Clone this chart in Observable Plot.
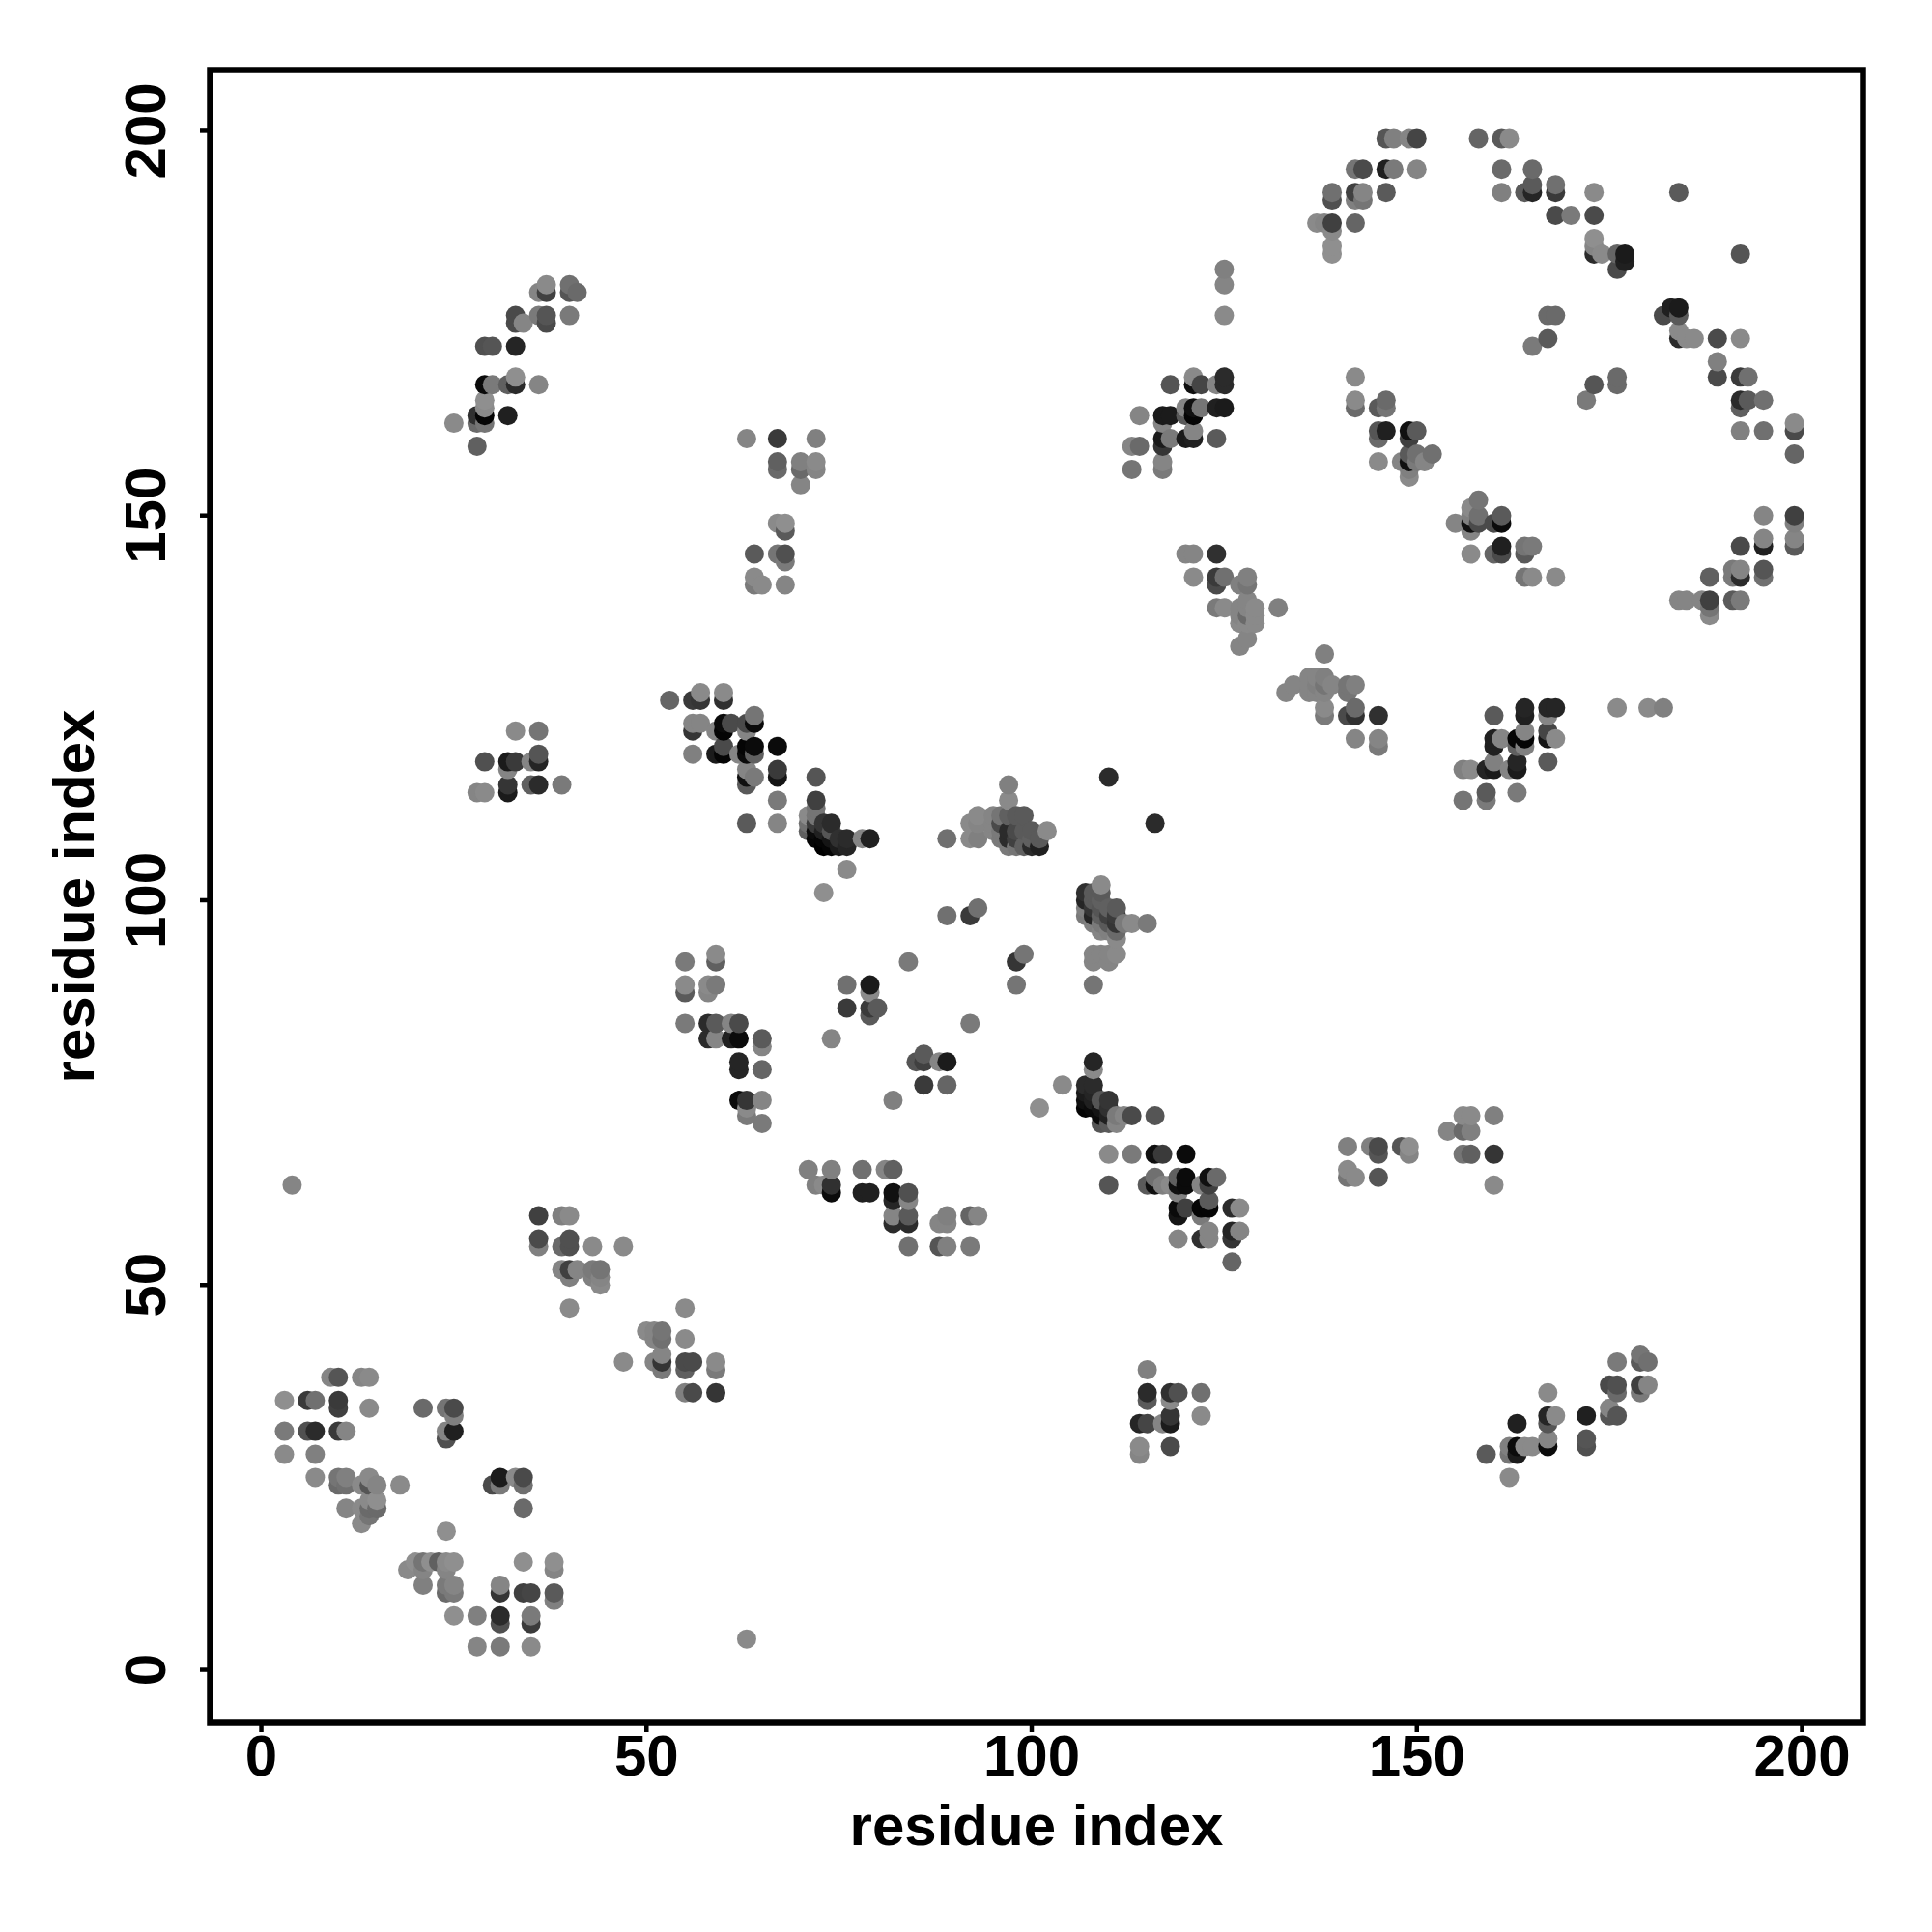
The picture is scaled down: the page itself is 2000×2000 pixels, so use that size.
<!DOCTYPE html>
<html>
<head>
<meta charset="utf-8">
<script src="https://cdn.jsdelivr.net/npm/d3@7"></script>
<script src="https://cdn.jsdelivr.net/npm/@observablehq/plot@0.6"></script>
<style>html,body{margin:0;padding:0;background:#fff}svg{display:block}</style>
</head>
<body>
<div id="chart"></div>
<script>
// each row: residue i, residue j, grey level of the contact
const lowLeft = [[3,35,135],[6,35,55],[7,35,105],[10,35,55],[10,34,60],[14,34,130],[3,31,115],[6,31,75],[7,31,40],[10,31,55],[11,31,125],[3,28,130],[7,28,120],[9,38,125],[10,38,80],[13,38,125],[14,38,130],
[7,25,130],[10,25,110],[10,24,100],[11,25,120],[11,24,105],[13,24,130],[14,24,80],[14,25,130],[15,24,125],[18,24,130],[11,21,125],[13,21,130],[14,21,100],[15,21,100],[14,22,130],[15,22,135],[14,20,110],[13,19,130],
[21,34,100],[24,34,110],[25,34,70],[25,33,120],[24,31,125],[25,31,30],[24,30,75],[31,25,25],[33,25,130],[34,25,70],[30,24,70],[31,24,115],[34,24,105],[34,21,100]];
const lowBase = [[28,3,125],[31,3,115],[35,3,130],[25,7,135],[28,7,120],[31,7,40],[31,6,75],[35,7,115],[35,6,55],[31,11,125],[31,10,50],[34,10,60],[35,10,65],[38,10,85],[38,9,120],[38,14,135],[38,13,125],[34,14,135],
[24,11,115],[25,11,125],[24,10,100],[25,10,115],[21,11,120],[19,13,130],[20,14,135],[21,14,110],[21,13,125],[22,14,135],[23,14,90],[24,14,130],[24,13,125],[25,14,135],[24,18,135],[63,4,130],[4,63,125]];
const lowMid = [[36,59,60],[39,59,120],[40,59,130],[36,56,70],[36,55,120],[39,55,100],[40,56,75],[40,55,75],[43,55,130],[47,55,130],[39,52,125],[40,52,60],[40,51,120],[41,52,125],[43,52,115],[44,52,110],[43,51,120],[44,51,125],[44,50,130],[40,47,130],
[50,44,130],[51,44,125],[52,44,110],[52,43,105],[51,43,125],[55,47,130],[55,43,130],[52,41,125],[47,40,130],[51,40,125],[52,40,50],[55,40,70],[56,40,70],[52,39,115],[55,39,90],[59,40,130],[59,39,115],[55,36,120],[56,36,70],[59,36,50]];
const midLeft = [[55,92,115],[59,93,130],[59,92,90],[55,89,130],[55,88,85],[58,89,130],[58,88,125],[59,89,115],[55,84,115],[58,84,40],[59,84,85],[61,84,125],[62,84,70],[58,82,40],[59,82,125],[61,82,30],[62,82,10],[65,82,85],[65,81,125],[62,79,35],[62,78,35],[65,78,95],[62,74,10],[63,74,50],[65,74,125],[63,73,130],[63,72,115],[65,71,115],
[76,89,105],[79,89,25],[79,88,130],[76,86,55],[79,86,55],[80,86,85],[79,85,85],[84,92,115],[74,82,125],[92,84,115],[85,79,80],[86,80,85],[86,79,60],[88,79,125],[89,79,25],[86,76,55],[89,76,95],[82,74,120],[104,76,130],[101,73,135],
[98,92,50],[99,93,110],[98,89,110],[89,98,105],[92,98,55],[93,99,105]];
const midLow = [[71,65,120],[74,65,120],[78,65,105],[81,65,125],[82,65,90],[72,63,120],[73,63,130],[74,63,45],[74,62,10],[78,62,30],[79,62,30],[82,62,15],[84,62,75],[82,61,35],[84,61,125],[82,59,125],[84,59,85],[89,59,120],[92,59,95],[93,59,125],[82,58,40],[84,58,40],[88,58,125],[89,58,125],[84,55,105],[88,55,80],[89,55,120],[92,55,115]];
const hub = [[108,79,35],[108,78,130],[107,76,40],[108,76,40],[107,75,25],[108,75,35],[107,74,15],[108,74,30],[107,73,5],[108,73,10],[109,74,80],[110,74,50],[109,73,20],[110,73,45],[109,72,10],[110,72,30],[111,72,115],[112,72,125],[113,72,70],[109,71,80],[110,71,85],[111,71,125],[116,72,80],
[110,67,130],[113,67,115],[116,67,15],[117,67,55],[120,67,10],[110,63,80],[115,63,85],[116,64,105],[116,63,15],[117,63,120],[118,63,130],[119,64,90],[120,64,10],[120,63,10],[119,63,15],[119,62,120],[122,63,125],[123,64,15],[124,64,100],[123,63,60],[123,61,85],
[119,60,10],[120,60,60],[122,60,5],[123,60,5],[119,59,20],[122,59,115],[126,60,40],[127,60,130],[123,57,125],[126,57,35],[127,57,125],[119,56,125],[122,56,45],[123,56,125],[126,56,50],[126,53,95]];
const hubRight = [[141,68,120],[144,68,120],[145,68,70],[145,67,80],[148,68,80],[149,68,135],[149,67,125],[141,65,130],[141,64,110],[142,64,130],[145,64,80],[156,72,130],[157,72,130],[160,72,120],[154,70,125],[156,70,100],[157,70,120],[156,67,110],[157,67,90],[160,67,50],[160,63,130]];
const lowRight = [[115,39,120],[115,36,40],[115,35,85],[118,36,45],[119,36,75],[118,35,130],[122,36,105],[122,33,130],[114,32,35],[115,32,65],[117,32,125],[118,33,50],[118,32,25],[114,29,130],[114,28,125],[118,29,70],
[159,28,85],[162,25,130],[163,32,30],[162,29,120],[162,28,110],[163,29,10],[163,28,25],[164,29,130],[165,29,130],[167,36,130],[167,33,35],[167,32,80],[168,33,130],[167,30,125],[167,29,10],[172,33,30],[172,30,80],[172,29,75],[175,37,70],[176,37,75],[176,36,100],[175,34,125],[175,33,80],[176,33,80],[176,40,115],[179,41,110],[179,40,85],[180,40,105],[179,37,60],[180,37,125],[179,36,115]];
const midTop = [[53,126,95],[56,126,55],[57,126,50],[57,127,130],[60,127,130],[60,126,45],[56,123,125],[57,123,125],[60,123,10],[61,123,70],[63,123,70],[64,123,10],[64,124,110],[56,122,50],[59,122,125],[60,122,5],[63,122,125],[56,119,120],[59,119,25],[60,119,5],[62,119,125],[63,119,10],[64,119,90],[60,120,70],[63,120,5],[64,120,10],[67,120,10],[67,117,55],[63,117,125],[63,116,15],[64,116,115],[67,116,20],[63,115,85],[67,113,115],[63,110,85],[67,110,125],
[72,116,80],[72,113,60],[72,112,110],[71,111,130],[71,110,105],[71,109,90],[72,111,110],[72,110,55],[72,109,10],[73,110,50],[74,110,40],[73,109,30],[74,109,80],[72,108,5],[73,108,5],[73,107,0],[74,108,20],[74,107,5],[75,108,45],[76,108,40],[75,107,25],[76,107,35],[78,108,125],[79,108,30],[76,104,130],[73,101,135]];
const center = [[89,108,105],[92,110,130],[92,108,130],[93,111,130],[93,110,125],[93,108,120],[97,115,120],[97,113,130],[95,111,125],[96,111,110],[96,110,70],[97,111,90],[98,111,85],[99,111,85],[96,109,115],[95,110,125],[95,109,125],[97,109,40],[97,108,40],[98,109,70],[98,108,60],[99,109,85],[100,109,85],[96,108,115],[97,107,115],[98,107,110],[99,107,90],[100,107,40],[101,107,30],[100,108,90],[101,108,85],[102,109,130],[110,116,40],[116,110,40],
[108,93,125],[108,92,125],[110,93,125],[110,92,125],[111,93,130],[109,93,125],[108,89,110],[109,102,130],[107,101,45],[108,101,85],[109,101,85],[107,100,35],[108,100,85],[109,100,90],[107,99,120],[108,99,50],[109,99,80],[110,99,90],[111,99,85],[107,98,115],[108,98,35],[109,98,90],[110,98,60],[111,98,55],[108,97,120],[109,97,115],[110,97,85],[111,97,50],[112,97,115],[113,97,130],[115,97,115],[109,96,125],[110,96,120],[111,96,100],[111,95,130]];
const upLeft = [[37,180,130],[36,179,125],[37,179,60],[40,180,105],[40,179,80],[41,179,100],[33,176,70],[33,175,70],[34,175,125],[36,176,115],[37,176,80],[37,175,70],[40,176,115],[29,172,75],[30,172,80],[33,172,35],[29,167,10],[30,167,115],[32,167,90],[33,167,40],[33,168,135],[36,167,125],[29,165,135],[29,164,130],[28,163,45],[29,163,5],[32,163,30],[28,162,100],[29,162,110],[25,162,130],[28,159,90],
[63,160,125],[67,160,55],[72,160,120],[67,157,90],[67,156,100],[70,157,120],[70,156,100],[72,157,130],[72,156,125],[70,154,125],[67,149,130],[68,149,135],[68,148,85],[64,145,85],[67,145,110],[68,145,75],[68,144,115],[64,142,130],[64,141,115],[65,141,130],[68,141,125],
[33,122,130],[36,122,110],[29,118,75],[32,118,25],[33,118,55],[35,118,125],[36,118,35],[36,119,80],[32,117,125],[35,115,90],[36,115,40],[39,115,115],[32,115,50],[32,114,25],[28,114,125],[29,114,130]];
const upMiddle = [[118,167,80],[121,168,130],[121,167,15],[122,167,65],[124,167,125],[125,168,40],[125,167,40],[114,163,125],[117,163,25],[118,163,25],[120,164,125],[121,164,15],[122,164,110],[124,164,30],[125,164,25],[120,163,85],[121,163,5],[117,162,125],[117,160,25],[118,160,115],[120,160,25],[121,160,30],[121,161,125],[124,160,85],[113,159,125],[114,159,100],[117,159,50],[113,156,110],[117,157,125],[117,156,115],[125,182,120],[125,180,125],[125,176,130],
[120,145,125],[121,145,125],[124,145,45],[121,142,130],[124,142,55],[125,142,105],[124,141,70],[127,141,120],[128,142,120],[128,141,110],[124,138,115],[125,138,130],[127,138,125],[128,139,125],[129,138,130],[128,138,125],[132,138,120],[127,137,125],[128,137,100],[129,137,130],[127,136,130],[128,136,130],[129,136,130],[128,134,125],[127,133,125]];
const upCentre = [[142,168,130],[142,165,130],[142,164,100],[145,164,85],[146,165,100],[146,164,110],[145,161,80],[146,161,30],[149,161,15],[150,161,85],[145,160,100],[149,160,60],[145,157,130],[148,157,125],[149,157,15],[149,158,85],[150,158,105],[150,157,115],[151,157,125],[152,158,105],[149,156,120],[149,155,130],
[158,152,110],[157,151,130],[158,150,105],[157,150,120],[155,149,125],[157,149,15],[158,149,70],[160,149,70],[161,150,85],[161,149,10],[157,148,125],[157,145,130],[160,145,95],[161,146,30],[161,145,70],[164,146,110],[165,146,115],[164,145,85],[164,142,110],[165,142,130],[168,142,130]];
const strand = [[138,132,120],[133,127,125],[134,128,125],[136,129,125],[137,129,125],[138,129,120],[136,128,125],[137,128,120],[138,128,110],[139,128,125],[136,127,125],[137,127,125],[138,127,125],[141,128,110],[142,128,120],[141,127,110],[138,125,130],[138,124,115],[141,124,70],[142,125,100],[142,124,45],[145,124,45],[142,121,125],[145,121,125],[145,120,115],
[176,125,130],[180,125,130],[182,125,120],[156,113,110],[159,114,85],[159,113,115],[163,114,115],[156,117,120],[157,117,130],[159,117,35],[160,117,25],[160,118,120],[162,117,125],[163,118,35],[163,117,25],[160,121,30],[160,120,30],[161,121,125],[163,121,5],[163,120,90],[164,121,5],[164,120,120],[164,122,125],[160,124,85],[164,125,35],[164,124,30],[167,125,35],[168,125,35],[167,124,125],[167,122,65],[167,121,20],[168,121,130],[167,118,85]];
const topArc = [[146,199,80],[147,199,120],[149,199,125],[150,199,65],[158,199,95],[161,199,85],[162,199,130],[142,195,110],[143,195,70],[146,195,30],[147,195,115],[150,195,125],[161,195,100],[165,195,100],[139,192,105],[142,192,60],[143,192,125],[146,192,85],[161,192,120],[164,192,85],[165,193,85],[165,192,35],[168,193,105],[168,192,55],[173,192,130],[184,192,85],[139,191,75],[142,191,120],[143,191,110],[168,189,70],[170,189,115],[173,189,70],[137,188,130],[138,188,125],[139,188,60],[142,188,95],[139,187,130],[139,185,135],[139,184,135],
[173,186,135],[173,185,125],[173,184,40],[174,184,130],[176,184,95],[177,184,25],[177,183,30],[176,182,70],[192,184,80]];
const rightArc = [[167,176,100],[168,176,100],[167,173,85],[165,172,115],[182,176,70],[183,177,30],[184,177,25],[184,176,85],[184,174,130],[184,173,40],[185,173,130],[186,173,130],[189,173,70],[192,173,130],[189,170,120],[189,168,70],[192,168,55],[193,168,105],[192,165,40],[193,165,85],[195,165,105],[192,164,90],[192,161,120],[195,161,105],[199,162,130],[199,161,70],[199,158,95],[173,167,80],[176,168,100],[176,167,100],[172,165,115],
[195,150,125],[199,150,60],[199,149,120],[195,147,125],[195,146,30],[192,146,70],[199,147,125],[199,146,85],[191,143,115],[192,143,125],[195,143,80],[192,142,40],[191,142,115],[195,142,105],[188,142,90],[184,139,125],[185,139,125],[187,139,125],[188,139,60],[191,139,85],[192,139,115],[188,138,110],[188,137,130]];

const tickValues = [0, 50, 100, 150, 200];
const axisTitle = "residue index";

const contacts = d3.sort(
  [...lowLeft, ...lowBase, ...lowMid, ...midLeft, ...midLow, ...hub, ...hubRight, ...lowRight, ...midTop, ...center, ...upLeft, ...upMiddle, ...upCentre, ...strand, ...topArc, ...rightArc]
    .map(([i, j, shade]) => ({i, j, shade})),
  d => d.i, d => d.j
);

const chart = Plot.plot({
  width: 2000,
  height: 2000,
  marginLeft: 217,
  marginRight: 72,
  marginTop: 72,
  marginBottom: 217,
  style: {fontFamily: "'Liberation Sans', Arimo, Helvetica, sans-serif", fontWeight: "bold", fontSize: "60px", background: "#fff", color: "#000", overflow: "visible"},
  x: {domain: [-6.65, 207.9]},
  y: {domain: [-6.9, 207.9]},
  color: {type: "linear", domain: [0, 240], range: ["#000", "#fff"]},
  marks: [
    Plot.dot(contacts, {x: "i", y: "j", fill: "shade", r: 10, stroke: "none"}),
    Plot.frame({stroke: "#000", strokeWidth: 6.5}),
    Plot.axisX({ticks: tickValues, tickSize: 10, tickPadding: 2, strokeWidth: 4.5, stroke: "#000", fill: "#000", label: axisTitle, labelAnchor: "center", labelArrow: "none", labelOffset: 126, tickFormat: d => String(d)}),
    Plot.axisY({ticks: tickValues, tickSize: 10, tickPadding: 37, strokeWidth: 4.5, stroke: "#000", fill: "#000", tickRotate: -90, label: axisTitle, labelAnchor: "center", labelArrow: "none", labelOffset: 163, tickFormat: d => String(d)})
  ]
});
document.getElementById("chart").appendChild(chart);
</script>
</body>
</html>
